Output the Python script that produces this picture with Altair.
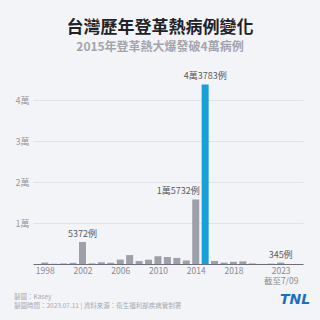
import altair as alt
import pandas as pd

years = list(range(1998, 2024))
cases = [344, 68, 139, 281, 5372, 145, 427, 306, 1074, 2179, 714, 1052, 1896,
         1702, 1478, 860, 15732, 43783, 744, 343, 533, 640, 137, 12, 88, 345]
highlight_year = 2015

label_years = [2002, 2015, 2023]
label_values = [5372, 43783, 345]
label_texts = ["5372例", "4萬3783例", "345例"]
right_label_year = [2014]
right_label_value = [15732]
right_label_text = ["1萬5732例"]

tick_years = [1998, 2002, 2006, 2010, 2014, 2018, 2023]
y_ticks = [0, 10000, 20000, 30000, 40000]

df = pd.DataFrame({"year": years, "cases": cases})
df["hl"] = df["year"] == highlight_year
lab = pd.DataFrame({"year": label_years, "cases": label_values, "t": label_texts})
lab2 = pd.DataFrame({"year": right_label_year, "cases": right_label_value, "t": right_label_text})

FONT = "Noto Sans CJK TC"
xscale = alt.Scale(domain=[1997.286, 2024.84], nice=False, zero=False)
yscale = alt.Scale(domain=[0, 50000], nice=False)

bars = alt.Chart(df).mark_bar(size=7).encode(
    x=alt.X("year:Q", scale=xscale, title=None,
            axis=alt.Axis(values=tick_years, format="d", grid=False, ticks=False,
                          domainColor="#6e6e78", domainWidth=1, labelColor="#8a8a92",
                          labelFont=FONT, labelFontSize=8.5, labelPadding=2,
                          labelExpr="datum.value == 2023 ? ['2023', '截至7/09'] : datum.label")),
    y=alt.Y("cases:Q", scale=yscale, title=None,
            axis=alt.Axis(values=y_ticks, domain=False, ticks=False, gridColor="#e1e3e9",
                          gridWidth=1, labelColor="#9a9aa2", labelFont=FONT, labelFontSize=9,
                          labelPadding=4,
                          labelExpr="datum.value == 0 ? '' : (datum.value / 10000) + '萬'")),
    color=alt.Color("hl:N", scale=alt.Scale(domain=[False, True], range=["#9e9fa8", "#1aa0d8"]),
                    legend=None),
)

labels = alt.Chart(lab).mark_text(baseline="bottom", dy=-3, font=FONT, fontSize=9,
                                  color="#5a5a62").encode(
    x=alt.X("year:Q", scale=xscale), y=alt.Y("cases:Q", scale=yscale), text="t:N")
labels2 = alt.Chart(lab2).mark_text(baseline="bottom", dy=-3, dx=4, align="right", font=FONT,
                                    fontSize=9, color="#5a5a62").encode(
    x=alt.X("year:Q", scale=xscale), y=alt.Y("cases:Q", scale=yscale), text="t:N")

foot1 = alt.Chart(pd.DataFrame({"t": ["製圖：Kasey"]})).mark_text(
    align="left", baseline="middle", font=FONT, fontSize=6.5, color="#a8a8b0").encode(
    x=alt.value(-19), y=alt.value(238), text="t:N")
foot2 = alt.Chart(pd.DataFrame({"t": ["製圖時間：2023.07.11 | 資料來源：衛生福利部疾病管制署"]})).mark_text(
    align="left", baseline="middle", font=FONT, fontSize=6.5, color="#a8a8b0").encode(
    x=alt.value(-19), y=alt.value(247), text="t:N")
logo = alt.Chart(pd.DataFrame({"t": ["TNL"]})).mark_text(
    align="center", baseline="middle", font="DejaVu Sans", fontSize=14, fontWeight="bold",
    fontStyle="italic", color="#1b6fc2").encode(
    x=alt.value(262), y=alt.value(241), text="t:N")

chart = alt.layer(bars, labels, labels2, foot1, foot2, logo).properties(
    width=270, height=205,
    padding={"left": 33, "top": 59, "right": 17, "bottom": 56},
    autosize=alt.AutoSizeParams(type="none"),
    background="#f3f4f8",
    title=alt.Title("台灣歷年登革熱病例變化",
                    subtitle="2015年登革熱大爆發破4萬病例",
                    anchor="middle", frame="group", dx=-8, offset=5,
                    font=FONT, fontSize=17, fontWeight="bold", color="#222226",
                    subtitleFont=FONT, subtitleFontSize=12, subtitleColor="#a4a4ac",
                    subtitleFontWeight="bold", subtitlePadding=5),
).configure_view(stroke=None)

chart.save("out.html", embed_options={"renderer": "svg", "actions": False})
